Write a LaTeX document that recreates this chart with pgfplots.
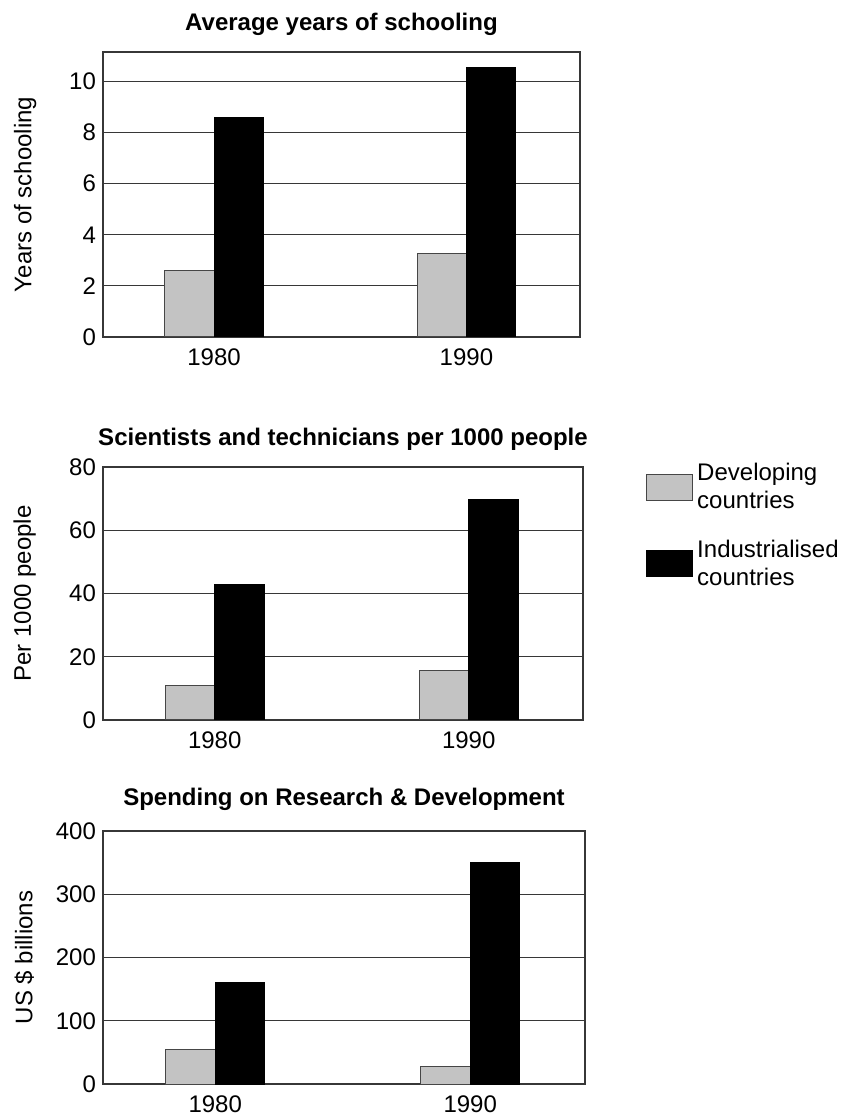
\documentclass[border=0pt]{standalone}
\usepackage{fontspec}
\setmainfont{Liberation Sans}
\usepackage{pgfplots}
\pgfplotsset{compat=1.18}
\definecolor{devgray}{RGB}{195,195,195}
\definecolor{gridgray}{RGB}{55,55,55}

\pgfplotsset{
  panel/.style={
    scale only axis, anchor=south west,
    xmin=-0.44, xmax=1.45, ymin=0,
    xtick={0,1}, xticklabels={1980,1990},
    major tick length=0pt,
    ymajorgrids, grid style={gridgray, line width=0.6pt},
    axis line style={gridgray, line width=0.7pt},
    tick label style={font=\fontsize{12}{14}\selectfont},
    /pgf/number format/assume math mode=true,
    every axis y label/.style={at={(axis description cs:-0.163,0.5)}, rotate=90,
      anchor=center, font=\fontsize{12}{14}\selectfont},
    xticklabel style={yshift=-2.5pt},
    title style={font=\bfseries\fontsize{12}{14}\selectfont,
      at={(axis description cs:0.5,1)}, anchor=center, yshift=8pt},
    bar width=0.195,
  },
  dev/.style={ybar, bar shift=-0.0975, fill=devgray, draw=gray!55!black, line width=0.5pt,
    legend image code/.code={\draw[fill=devgray, draw=gray!55!black, line width=0.6pt] (0pt,-6.5pt) rectangle (23pt,6.5pt);}},
  ind/.style={ybar, bar shift=0.0975, fill=black, draw=black, line width=0.5pt,
    legend image code/.code={\draw[fill=black, draw=black] (0pt,-6.5pt) rectangle (23pt,6.5pt);}},
}

\begin{document}
\begin{tikzpicture}
\path[use as bounding box] (0,0) rectangle (421.5pt,558pt);

% average years of schooling
\begin{axis}[panel, at={(51.5pt,389.5pt)}, width=238.5pt, height=142.5pt,
  ymax=11.15, ytick={0,2,...,10},
  title={Average years of schooling}, ylabel={Years of schooling}]
  \addplot[dev] coordinates {(0,2.6) (1,3.25)};
  \addplot[ind] coordinates {(0,8.6) (1,10.55)};
\end{axis}

% scientists and technicians
\begin{axis}[panel, at={(51.5pt,198pt)}, width=240pt, height=126.5pt,
  ymax=80, ytick={0,20,...,80},
  title={Scientists and technicians per 1000 people}, ylabel={Per 1000 people},
  legend style={at={(1.118,1.048)}, anchor=north west, draw=none, fill=none,
    cells={align=left, anchor=west}, row sep=10pt,
    font=\fontsize{12}{14}\selectfont}]
  \addplot[dev] coordinates {(0,11) (1,15.8)};
  \addlegendentry{Developing\\countries}
  \addplot[ind] coordinates {(0,43) (1,69.6)};
  \addlegendentry{Industrialised\\countries}
\end{axis}

% spending on R&D
\begin{axis}[panel, at={(51.5pt,16pt)}, width=241pt, height=126.5pt,
  ymax=400, ytick={0,100,...,400}, title style={yshift=2pt},
  title={Spending on Research \& Development}, ylabel={US \$ billions}]
  \addplot[dev] coordinates {(0,55) (1,28)};
  \addplot[ind] coordinates {(0,160) (1,350)};
\end{axis}
\end{tikzpicture}
\end{document}
